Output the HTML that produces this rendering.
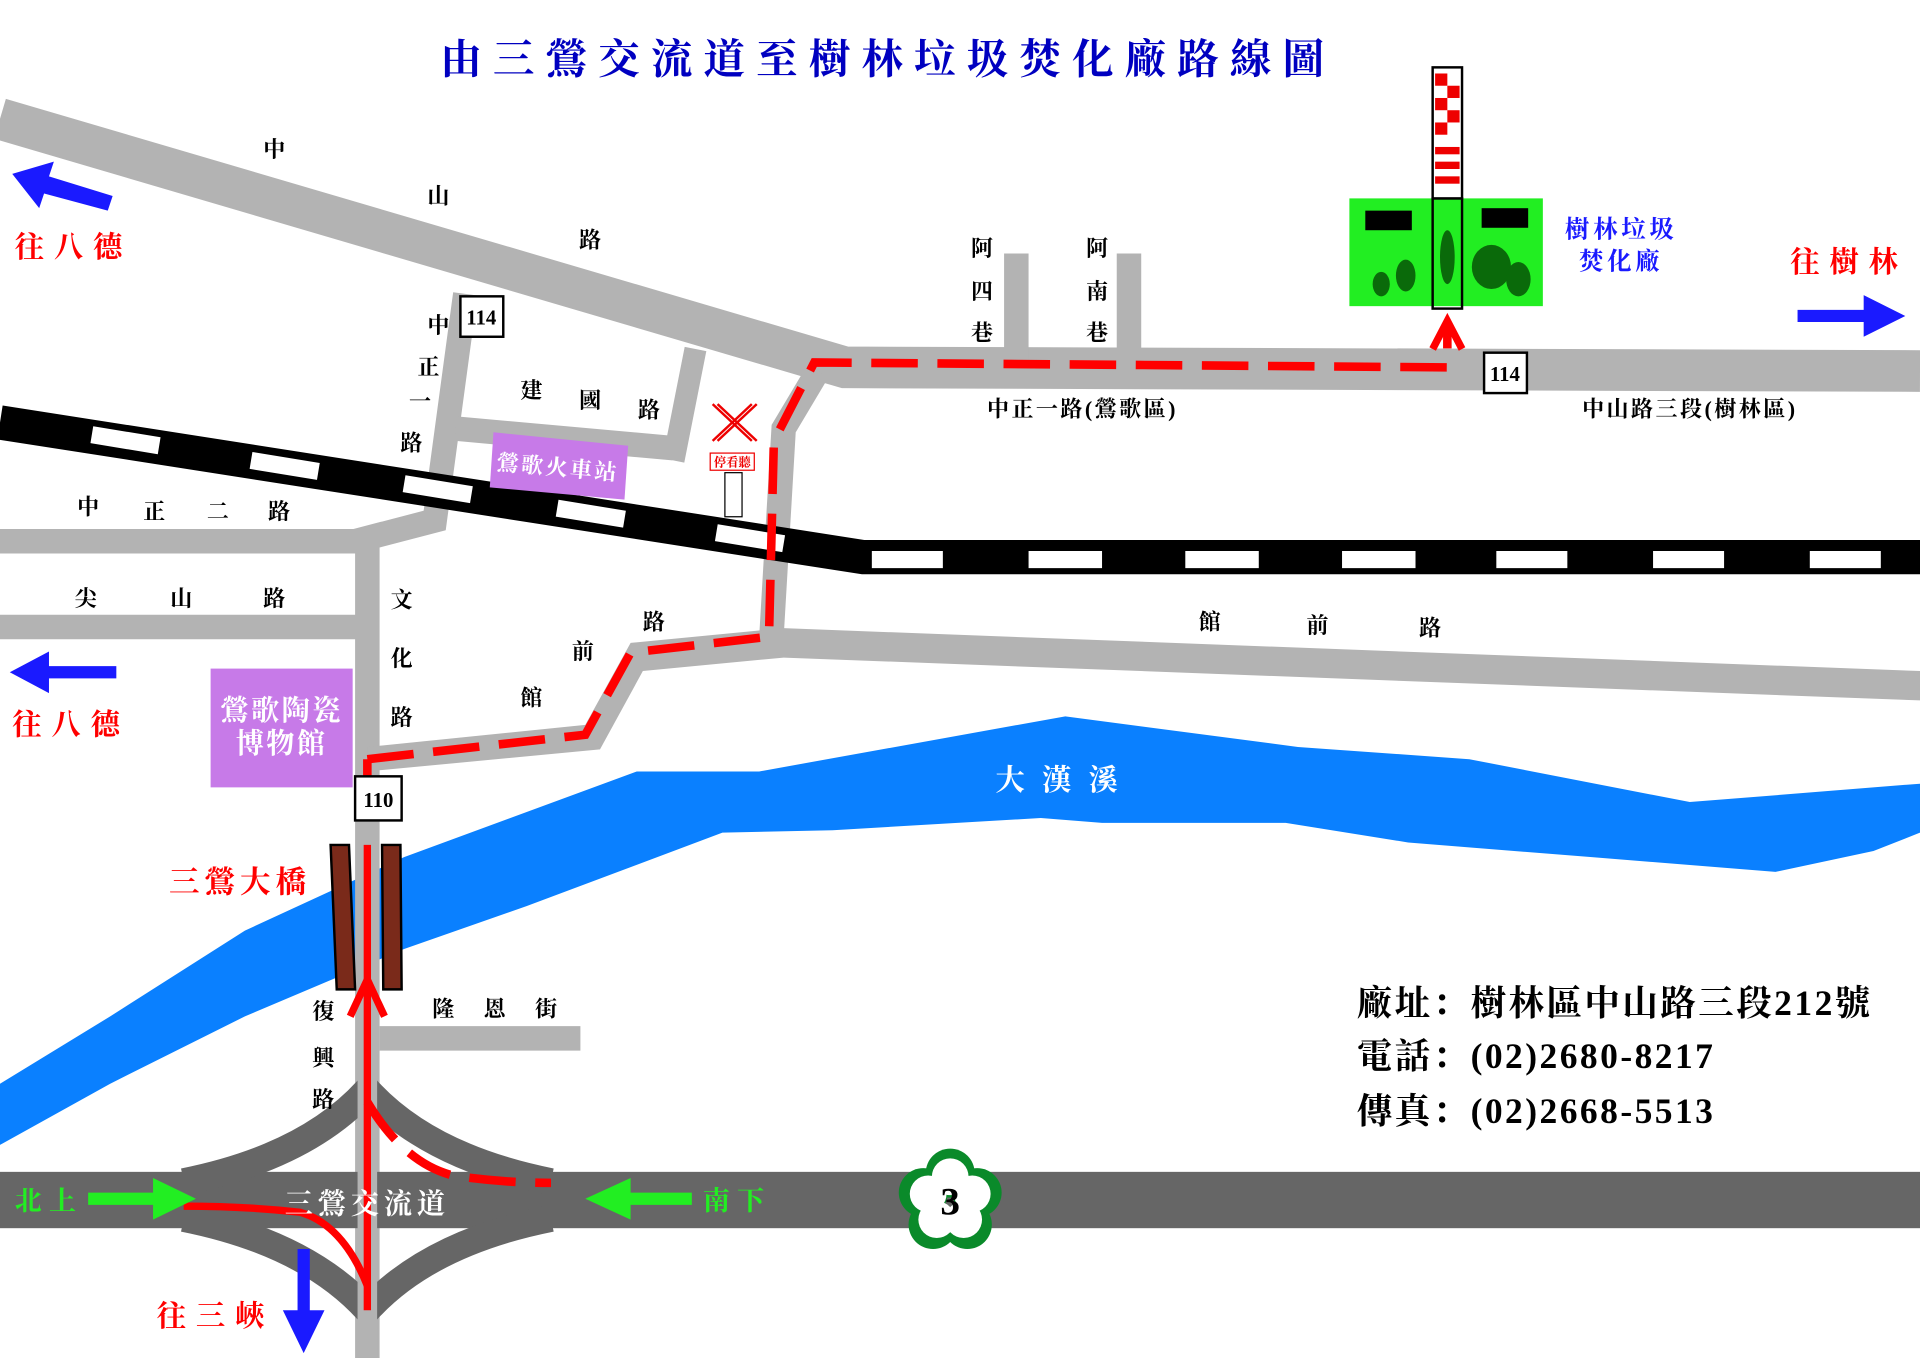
<!DOCTYPE html>
<html><head><meta charset="utf-8"><style>
html,body{margin:0;padding:0;background:#fff}
svg{display:block}
text{font-family:"Liberation Serif","Noto Serif CJK SC","Noto Sans CJK TC",serif;font-weight:bold}
</style></head><body>
<svg width="1920" height="1358" viewBox="0 0 1568 1109" xmlns="http://www.w3.org/2000/svg">
<rect width="1568" height="1109" fill="#fff"/>
<text x="725" y="60" font-size="34" fill="#0000c0" text-anchor="middle" letter-spacing="9">由三鶯交流道至樹林垃圾焚化廠路線圖</text>

<path d="M0,885 L90,830 L200,760 L330,700 L520,630 L620,630 L870,585 L1060,610 L1200,620 L1380,655 L1568,640 L1568,680 L1530,695 L1450,712 L1300,700 L1150,688 L1050,672 L900,672 L850,668 L680,678 L590,680 L430,740 L330,775 L200,830 L90,885 L0,935 Z" fill="#0a80ff"/>
<text x="870" y="645" font-size="24" fill="#fff" text-anchor="middle" letter-spacing="14">大漢溪</text>

<g fill="none" stroke="#b3b3b3" stroke-linejoin="miter">
<path d="M0,97 L690,300 L1568,303" stroke-width="34"/>
<path d="M0,442 L290,442 L355,425 L380,240" stroke-width="20"/>
<path d="M0,512 L300,512" stroke-width="20"/>
<path d="M300,445 L300,1109" stroke-width="20"/>
<path d="M372,350 L550,366" stroke-width="20"/>
<path d="M568,285 L550,376" stroke-width="18"/>
<path d="M830,207 L830,300" stroke-width="20"/>
<path d="M922,207 L922,300" stroke-width="20"/>
<path d="M310,848 L474,848" stroke-width="20"/>
<path d="M668,303 L640,350 L630,520" stroke-width="20"/>
</g>
<path d="M300,610 L478,592 L515,525 L640,513 L1568,548 L1568,572 L640,537 L525,548 L490,612 L300,630 Z" fill="#b3b3b3"/>

<path d="M0,345 L705,455 L1568,455" fill="none" stroke="#000" stroke-width="28"/>
<g stroke="#fff" stroke-width="14">
<line x1="75" y1="355" x2="130" y2="364"/><line x1="205" y1="376" x2="260" y2="385"/><line x1="330" y1="395" x2="385" y2="404"/><line x1="455" y1="415" x2="510" y2="424"/><line x1="585" y1="435" x2="640" y2="444"/>
<line x1="712" y1="457" x2="770" y2="457"/><line x1="840" y1="457" x2="900" y2="457"/><line x1="968" y1="457" x2="1028" y2="457"/><line x1="1096" y1="457" x2="1156" y2="457"/><line x1="1222" y1="457" x2="1280" y2="457"/><line x1="1350" y1="457" x2="1408" y2="457"/><line x1="1478" y1="457" x2="1536" y2="457"/>
</g>

<rect x="0" y="957" width="1568" height="46" fill="#666"/>
<g fill="none" stroke="#666" stroke-width="22">
<path d="M150,965 Q250,945 300,890 Q350,945 450,965"/>
<path d="M150,995 Q250,1015 300,1070 Q350,1015 450,995"/>
</g>
<rect x="292" y="860" width="16" height="249" fill="#b3b3b3"/>

<g transform="translate(776,980)">
<g fill="#0a8a2a"><circle cx="0" cy="-22" r="20"/><circle cx="22" cy="-6" r="20"/><circle cx="14" cy="20" r="20"/><circle cx="-14" cy="20" r="20"/><circle cx="-22" cy="-6" r="20"/></g>
<g fill="#fff"><circle cx="0" cy="-19" r="15"/><circle cx="18" cy="-5" r="15"/><circle cx="11" cy="16" r="15"/><circle cx="-11" cy="16" r="15"/><circle cx="-18" cy="-5" r="15"/></g>
<text x="0" y="12" font-size="32" text-anchor="middle" fill="#000" font-family="Liberation Sans">3</text>
</g>

<path d="M270,690 L285,690 L290,808 L275,808 Z" fill="#7a2a1a" stroke="#000" stroke-width="2"/>
<path d="M312,690 L327,690 L328,808 L313,808 Z" fill="#7a2a1a" stroke="#000" stroke-width="2"/>

<rect x="172" y="546" width="116" height="97" fill="#c77ae8"/>
<text x="230" y="588" font-size="23" fill="#fff" text-anchor="middle" letter-spacing="2">鶯歌陶瓷</text>
<text x="230" y="615" font-size="23" fill="#fff" text-anchor="middle" letter-spacing="2">博物館</text>
<path d="M403,353 L513,364 L510,408 L400,398 Z" fill="#c77ae8"/>
<text x="455" y="388" font-size="18" fill="#fff" text-anchor="middle" transform="rotate(5 455 388)" letter-spacing="2">鶯歌火車站</text>

<g stroke="#e00" stroke-width="2" fill="none"><line x1="582" y1="330" x2="614" y2="360"/><line x1="614" y1="330" x2="582" y2="360"/><line x1="586" y1="330" x2="618" y2="360"/><line x1="618" y1="330" x2="586" y2="360"/></g>
<rect x="580" y="370" width="36" height="14" fill="#fff" stroke="#e00"/>
<text x="598" y="381" font-size="10" fill="#e00" text-anchor="middle">停看聽</text>
<rect x="592" y="386" width="14" height="36" fill="#fff" stroke="#000"/>

<rect x="1102" y="162" width="158" height="88" fill="#22ee22"/>
<rect x="1115" y="172" width="38" height="16" fill="#000"/>
<rect x="1210" y="170" width="38" height="16" fill="#000"/>
<g fill="#0a6a0a"><ellipse cx="1218" cy="218" rx="16" ry="18"/><ellipse cx="1240" cy="228" rx="10" ry="14"/><ellipse cx="1148" cy="225" rx="8" ry="13"/><ellipse cx="1128" cy="232" rx="7" ry="10"/><ellipse cx="1182" cy="210" rx="6" ry="22"/></g>
<rect x="1170" y="162" width="24" height="90" fill="none" stroke="#000" stroke-width="2"/>
<rect x="1170" y="55" width="24" height="107" fill="#fff" stroke="#000" stroke-width="2"/>
<g fill="#e00"><rect x="1172" y="60" width="10" height="10"/><rect x="1182" y="70" width="10" height="10"/><rect x="1172" y="80" width="10" height="10"/><rect x="1182" y="90" width="10" height="10"/><rect x="1172" y="100" width="10" height="10"/><rect x="1172" y="120" width="20" height="6"/><rect x="1172" y="132" width="20" height="6"/><rect x="1172" y="144" width="20" height="6"/></g>
<text x="1324" y="194" font-size="20" fill="#1a1aff" text-anchor="middle" letter-spacing="3">樹林垃圾</text>
<text x="1324" y="220" font-size="20" fill="#1a1aff" text-anchor="middle" letter-spacing="3">焚化廠</text>

<g fill="none" stroke="#f00" stroke-width="7" stroke-dasharray="38,16">
<path d="M300,620 L300,650"/>
<path d="M300,620 L478,600 L515,533 L628,520 L632,360 L665,296 L1182,300 L1182,265"/>
<path d="M300,900 Q330,950 370,960 Q410,966 450,966"/>
</g>
<path d="M300,1050 Q280,1000 245,990 Q200,985 150,985" fill="none" stroke="#f00" stroke-width="6"/>
<path d="M300,690 L300,1070" fill="none" stroke="#f00" stroke-width="6"/>
<path d="M286,830 L300,800 L314,830" fill="none" stroke="#f00" stroke-width="6"/>
<path d="M1170,285 L1182,262 L1194,285" fill="none" stroke="#f00" stroke-width="6"/>

<g font-family="Liberation Sans" font-weight="bold" font-size="17" text-anchor="middle">
<rect x="376" y="242" width="35" height="33" fill="#fff" stroke="#000" stroke-width="2"/><text x="393" y="265">114</text>
<rect x="1212" y="288" width="35" height="33" fill="#fff" stroke="#000" stroke-width="2"/><text x="1229" y="311">114</text>
<rect x="290" y="634" width="38" height="36" fill="#fff" stroke="#000" stroke-width="2"/><text x="309" y="659">110</text>
</g>

<g fill="#1a1aff">
<path d="M92,160 L40,144 L44,132 L10,142 L32,170 L36,158 L88,172 Z"/>
<path d="M95,544 L40,544 L40,532 L8,549 L40,566 L40,554 L95,554 Z"/>
<path d="M1468,253 L1522,253 L1522,241 L1556,258 L1522,275 L1522,263 L1468,263 Z"/>
<path d="M243,1020 L243,1070 L231,1070 L248,1105 L265,1070 L253,1070 L253,1020 Z"/>
</g>
<g fill="#22ee22">
<path d="M72,974 L125,974 L125,962 L160,979 L125,996 L125,984 L72,984 Z"/>
<path d="M565,974 L515,974 L515,962 L478,979 L515,996 L515,984 L565,984 Z"/>
</g>

<g font-size="24" fill="#f00" letter-spacing="8">
<text x="12" y="210">往八德</text><text x="10" y="600">往八德</text>
<text x="1462" y="222">往樹林</text><text x="128" y="1083">往三峽</text>
<text x="138" y="729" font-size="25" letter-spacing="4">三鶯大橋</text>
</g>
<text x="12" y="988" font-size="22" fill="#22ee22" letter-spacing="6">北上</text>
<text x="574" y="988" font-size="22" fill="#22ee22" letter-spacing="6">南下</text>
<text x="300" y="991" font-size="23" fill="#fff" text-anchor="middle" letter-spacing="4">三鶯交流道</text>

<g font-size="18" fill="#000" text-anchor="middle">
<text x="224" y="128">中</text><text x="358" y="166">山</text><text x="482" y="202">路</text>
<text x="358" y="272">中</text><text x="350" y="306">正</text><text x="343" y="334">一</text><text x="336" y="368">路</text>
<text x="434" y="325">建</text><text x="482" y="333">國</text><text x="530" y="341">路</text>
<text x="72" y="420">中</text><text x="126" y="424">正</text><text x="178" y="424">二</text><text x="228" y="424">路</text>
<text x="70" y="495">尖</text><text x="148" y="495">山</text><text x="224" y="495">路</text>
<text x="328" y="496">文</text><text x="328" y="544">化</text><text x="328" y="592">路</text>
<text x="434" y="576">館</text><text x="476" y="538">前</text><text x="534" y="514">路</text>
<text x="988" y="514">館</text><text x="1076" y="517">前</text><text x="1168" y="519">路</text>
<text x="802" y="209">阿</text><text x="802" y="244">四</text><text x="802" y="278">巷</text>
<text x="896" y="209">阿</text><text x="896" y="244">南</text><text x="896" y="278">巷</text>
<text x="884" y="340" letter-spacing="2">中正一路(鶯歌區)</text>
<text x="1380" y="340" letter-spacing="2">中山路三段(樹林區)</text>
<text x="264" y="832">復</text><text x="264" y="870">興</text><text x="264" y="904">路</text>
<text x="362" y="830">隆</text><text x="404" y="830">恩</text><text x="446" y="830">街</text>
</g>

<g font-size="29" fill="#000" letter-spacing="2">
<text x="1108" y="829">廠址：樹林區中山路三段212號</text>
<text x="1108" y="872">電話：(02)2680-8217</text>
<text x="1108" y="917">傳真：(02)2668-5513</text>
</g>
</svg>
</body></html>
